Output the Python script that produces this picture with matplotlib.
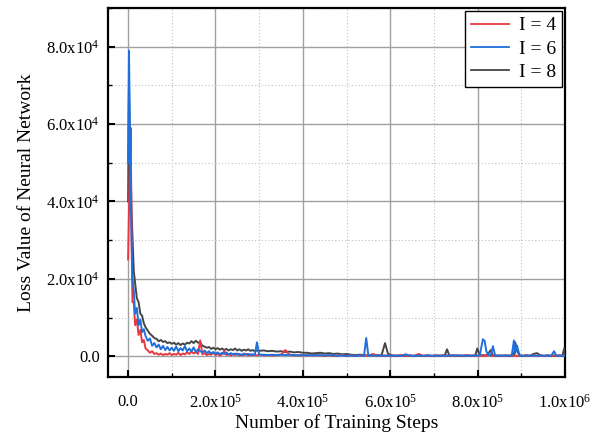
import matplotlib
matplotlib.use("Agg")
import matplotlib.pyplot as plt
from matplotlib.lines import Line2D
from matplotlib.ticker import FuncFormatter, MultipleLocator

# training steps (thousands)
steps_k = [
    # early spike
    0, 2, 4, 6, 8, 10, 13, 16, 20, 24, 28, 32, 36,
    # decay
    40, 45, 50, 55, 60, 65, 70, 75, 80, 85,
    90, 95, 100, 105, 110, 115, 120, 125, 130, 135,
    140, 145, 150, 155, 160, 165, 170, 175, 180, 185,
    190, 195, 200, 205, 210, 215, 220, 225, 230, 235,
    240, 245, 250, 255, 260, 265, 270, 275, 280, 285,
    290, 295, 300,
    # tail
    310, 320, 330, 340, 350, 360, 370, 380, 390, 400,
    410, 420, 430, 440, 450, 460, 470, 480, 490, 500,
    510, 520, 530, 540, 545, 550, 560, 570, 580, 588,
    595, 605, 615, 625, 635, 645, 655, 665, 675, 685,
    695, 705, 715, 725, 730, 735, 745, 755, 765, 775,
    785, 795, 799, 805, 812, 816, 820, 826, 830, 835,
    840, 848, 856, 864, 872, 878, 883, 886, 890, 896,
    904, 912, 920, 928, 936, 944, 952, 960, 968, 975,
    980, 988, 994, 998, 1000,
]

loss_i4 = [
    25000, 38000, 50000, 59000, 30000, 14000, 14000, 8000, 9500, 5500, 6800, 3600, 4200,
    2000, 1500, 900, 1300, 600, 800, 400, 700, 300, 600,
    400, 800, 300, 600, 400, 900, 300, 700, 500, 1000,
    600, 1200, 700, 1100, 600, 4100, 500, 800, 300, 600,
    400, 900, 300, 600, 200, 500, 1300, 300, 600, 200,
    500, 300, 700, 200, 400, 300, 600, 200, 500, 300,
    400, 200, 500,
    200, 300, 200, 300, 400, 1600, 300, 200, 300, 200,
    300, 200, 300, 200, 100, 200, 100, 200, 300, 100,
    200, 100, 200, 100, 200, 100, 600, 200, 100, 200,
    100, 200, 100, 300, 100, 200, 100, 600, 100, 200,
    100, 200, 100, 200, 100, 200, 100, 200, 100, 300,
    100, 200, 100, 200, 100, 200, 100, 400, 100, 200,
    100, 200, 100, 200, 100, 200, 100, 200, 100, 200,
    100, 300, 100, 200, 100, 200, 100, 200, 100, 200,
    100, 200, 100, 200, 100,
]

loss_i6 = [
    50000, 79000, 60000, 42000, 30000, 20000, 17000, 11000, 12500, 8000, 9500, 6200, 7000,
    5200, 4000, 4600, 2700, 3400, 2300, 3000, 1800, 2700, 1600,
    2400, 1500, 2200, 1400, 2500, 1300, 2100, 1500, 2600, 1300,
    2000, 1200, 2300, 1100, 1800, 1300, 1000, 1500, 800, 1300,
    700, 1100, 600, 1000, 500, 900, 600, 1000, 400, 800,
    500, 700, 400, 600, 300, 700, 400, 600, 300, 500,
    400, 3600, 400,
    400, 300, 400, 300, 400, 300, 400, 300, 200, 300,
    200, 300, 200, 300, 200, 300, 200, 100, 200, 100,
    200, 100, 200, 100, 4700, 100, 200, 100, 200, 100,
    200, 100, 200, 100, 500, 100, 100, 200, 100, 200,
    100, 100, 200, 100, 200, 100, 300, 100, 200, 100,
    200, 100, 200, 300, 4400, 4000, 1200, 300, 200, 2600,
    200, 100, 200, 100, 200, 100, 4100, 800, 2800, 200,
    100, 200, 100, 200, 100, 200, 100, 200, 100, 1300,
    200, 100, 200, 100, 200,
]

loss_i8 = [
    40000, 70000, 55000, 48000, 37000, 31000, 22000, 19000, 15000, 14000, 11000, 10500, 8500,
    7500, 6600, 5800, 5300, 4700, 4500, 3900, 4200, 3700, 3900,
    3400, 3600, 3200, 3500, 3000, 3400, 2900, 3300, 3000, 3500,
    3300, 3900, 3400, 4000, 3500, 3600, 2700, 2500, 2200, 2400,
    1900, 2200, 1800, 2100, 1700, 2000, 1600, 1900, 1500, 1800,
    1600, 2000, 1500, 1800, 1400, 1700, 1500, 1800, 1400, 1600,
    1300, 1500, 1400,
    1500, 1300, 1400, 1200, 1300, 1100, 1200, 1000, 1100, 900,
    900, 700, 800, 900, 700, 800, 600, 700, 500, 600,
    400, 300, 400, 300, 200, 300, 200, 300, 200, 3400,
    600, 200, 100, 200, 100, 200, 100, 200, 100, 200,
    100, 200, 100, 300, 1800, 200, 100, 200, 100, 200,
    100, 300, 2000, 200, 300, 200, 200, 1000, 1600, 200,
    100, 200, 100, 200, 100, 200, 300, 3600, 1500, 200,
    100, 200, 100, 600, 800, 200, 100, 200, 100, 200,
    100, 200, 100, 2000, 500,
]

assert len(steps_k) == len(loss_i4) == len(loss_i6) == len(loss_i8)

labels = ["I = 4", "I = 6", "I = 8"]
colors = ["#e8383f", "#1f6fdc", "#454545"]

plt.rcParams["font.family"] = ["Liberation Serif", "DejaVu Serif"]
plt.rcParams["mathtext.fontset"] = "custom"
plt.rcParams["mathtext.rm"] = "Liberation Serif"
plt.rcParams["mathtext.it"] = "Liberation Serif:italic"


def sci_fmt(v, _pos):
    if abs(v) < 1e-9:
        return "0.0"
    exp = 0
    m = abs(v)
    while m >= 10:
        m /= 10.0
        exp += 1
    sign = "-" if v < 0 else ""
    return f"{sign}{m:.1f}x10$^{{{exp}}}$"


fig = plt.figure(figsize=(6.0, 4.33), dpi=100)
ax = fig.add_axes([0.18, 0.129, 0.7617, 0.8525])

x = [s * 1000 for s in steps_k]
series = [loss_i4, loss_i6, loss_i8]
# black underneath, blue on top
for idx in (2, 0, 1):
    ax.plot(x, series[idx], color=colors[idx], linewidth=1.4, zorder=3)

ax.set_xlim(-46000, 1000000)
ax.set_ylim(-5400, 90000)

ax.xaxis.set_major_locator(MultipleLocator(200000))
ax.xaxis.set_minor_locator(MultipleLocator(100000))
ax.yaxis.set_major_locator(MultipleLocator(20000))
ax.yaxis.set_minor_locator(MultipleLocator(10000))
ax.xaxis.set_major_formatter(FuncFormatter(sci_fmt))
ax.yaxis.set_major_formatter(FuncFormatter(sci_fmt))

ax.grid(True, which="major", color="#a0a0a0", linewidth=1.0, linestyle="-")
ax.grid(True, which="minor", color="#c0c0c0", linewidth=0.8, linestyle=(0, (1, 2)))
ax.set_axisbelow(True)

ax.tick_params(which="major", direction="in", length=5, width=1.5,
               labelsize=12, top=False, right=False)
ax.tick_params(which="minor", direction="in", length=3, width=1.0,
               top=False, right=False)
ax.tick_params(axis="x", which="major", pad=12)
ax.tick_params(axis="y", which="major", pad=6)
for sp in ax.spines.values():
    sp.set_linewidth(1.6)

ax.set_xlabel("Number of Training Steps", fontsize=14, labelpad=2)
ax.set_ylabel("Loss Value of Neural Network", fontsize=14, labelpad=8)

handles = [Line2D([0], [0], color=c, linewidth=1.3) for c in colors]
leg = ax.legend(handles, labels, loc="upper right", fontsize=14,
                fancybox=False, framealpha=1, edgecolor="black",
                handlelength=2.0, borderaxespad=0.15, borderpad=0.3,
                labelspacing=0.3, handletextpad=0.5)
leg.get_frame().set_linewidth(1.0)

fig.savefig("out.png", dpi=100)
